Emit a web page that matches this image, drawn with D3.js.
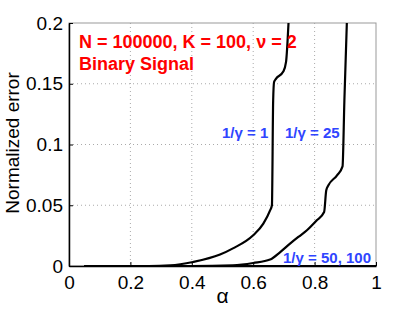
<!DOCTYPE html>
<html>
<head>
<meta charset="utf-8">
<script src="https://cdn.jsdelivr.net/npm/d3@7"></script>
<style>
  body { margin: 0; background: #fff; }
  text { font-family: "Liberation Sans", Arial, sans-serif; }
</style>
</head>
<body>
<div id="chart"></div>
<script>
// data
let alphaG1 = [0.05, 0.26, 0.33, 0.404, 0.492, 0.534, 0.600, 0.633, 0.655, 0.661, 0.665, 0.668, 0.674, 0.698, 0.707, 0.715];
let errG1 = [0, 0, 0.0005, 0.0033, 0.0094, 0.0145, 0.0253, 0.0349, 0.0458, 0.050, 0.136, 0.1514, 0.154, 0.160, 0.168, 0.2];

let alphaG25 = [0.05, 0.40, 0.534, 0.600, 0.655, 0.688, 0.720, 0.747, 0.775, 0.807, 0.831, 0.838, 0.845, 0.873, 0.891, 0.897, 0.905];
let errG25 = [0, 0, 0.0006, 0.0025, 0.0053, 0.0115, 0.0184, 0.0239, 0.0294, 0.0376, 0.0444, 0.0623, 0.0664, 0.0746, 0.082, 0.136, 0.2];

let alphaG50 = [0.05, 1];
let errG50 = [0, 0];

let xTicks = [0, 0.2, 0.4, 0.6, 0.8, 1];
let yTicks = [0, 0.05, 0.1, 0.15, 0.2];

let margin = {top: 23, right: 39, bottom: 46, left: 69};
let width = 415 - margin.left - margin.right;
let height = 312 - margin.top - margin.bottom;

let svg = d3.select("#chart")
  .append("svg")
  .attr("width", 415)
  .attr("height", 312)
  .append("g")
  .attr("transform", "translate(" + margin.left + "," + margin.top + ")");

let x = d3.scaleLinear().domain([0, 1]).range([0, width]);
let y = d3.scaleLinear().domain([0, 0.2]).range([height, 0]);

// grid
svg.append("g")
  .selectAll("line")
  .data(xTicks.slice(1, -1))
  .enter()
  .append("line")
  .attr("x1", (d) => x(d)).attr("x2", (d) => x(d))
  .attr("y1", 0).attr("y2", height)
  .attr("stroke", "#aaa")
  .attr("stroke-dasharray", "1,3");

svg.append("g")
  .selectAll("line")
  .data(yTicks.slice(1, -1))
  .enter()
  .append("line")
  .attr("x1", 0).attr("x2", width)
  .attr("y1", (d) => y(d)).attr("y2", (d) => y(d))
  .attr("stroke", "#aaa")
  .attr("stroke-dasharray", "1,3");

// box top / right
svg.append("rect")
  .attr("x", 0).attr("y", 0)
  .attr("width", width).attr("height", height)
  .attr("fill", "none")
  .attr("stroke", "#999")
  .attr("stroke-width", 1);

// curves
let line = d3.line()
  .x((d) => x(d[0]))
  .y((d) => y(d[1]))
  .curve(d3.curveMonotoneX);

let series = [
  d3.zip(alphaG1, errG1),
  d3.zip(alphaG25, errG25),
  d3.zip(alphaG50, errG50)
];

svg.selectAll(".curve")
  .data(series)
  .enter()
  .append("path")
  .attr("class", "curve")
  .attr("d", line)
  .attr("fill", "none")
  .attr("stroke", "#000")
  .attr("stroke-width", 2.2)
  .attr("stroke-linejoin", "round");

// axes
let xAxis = svg.append("g")
  .attr("transform", "translate(0," + height + ")")
  .call(d3.axisBottom(x).tickValues(xTicks).tickFormat(d3.format("")).tickSizeInner(-4).tickSizeOuter(0).tickPadding(10));

let yAxis = svg.append("g")
  .call(d3.axisLeft(y).tickValues(yTicks).tickFormat(d3.format("")).tickSizeInner(-4).tickSizeOuter(0).tickPadding(6));

[xAxis, yAxis].forEach((g) => {
  g.select(".domain").attr("stroke", "#000").attr("stroke-width", 1.5);
  g.selectAll(".tick line").attr("stroke", "#000");
  g.selectAll("text")
    .attr("font-size", 19)
    .attr("font-family", "Liberation Sans, Arial, sans-serif")
    .attr("fill", "#000");
});

// axis labels
svg.append("text")
  .attr("x", x(0.5))
  .attr("y", height + 37)
  .attr("text-anchor", "middle")
  .attr("font-size", 21)
  .text("α");

svg.append("text")
  .attr("transform", "translate(" + (19 - margin.left) + "," + (143 - margin.top) + ") rotate(-90)")
  .attr("text-anchor", "middle")
  .attr("font-size", 19)
  .text("Normalized error");

// annotations
svg.append("text")
  .attr("x", 10).attr("y", 25)
  .attr("font-size", 18)
  .attr("font-weight", "bold")
  .attr("fill", "#ff0000")
  .text("N = 100000, K = 100, ν = 2");

svg.append("text")
  .attr("x", 10).attr("y", 47)
  .attr("font-size", 18)
  .attr("font-weight", "bold")
  .attr("fill", "#ff0000")
  .text("Binary Signal");

let blue = "#2f45ff";
svg.append("text")
  .attr("x", 153).attr("y", 115)
  .attr("font-size", 15).attr("font-weight", "bold").attr("fill", blue)
  .text("1/γ = 1");

svg.append("text")
  .attr("x", 216).attr("y", 115)
  .attr("font-size", 15).attr("font-weight", "bold").attr("fill", blue)
  .text("1/γ = 25");

svg.append("text")
  .attr("x", 214).attr("y", 240)
  .attr("font-size", 15).attr("font-weight", "bold").attr("fill", blue)
  .text("1/γ = 50, 100");
</script>
</body>
</html>
